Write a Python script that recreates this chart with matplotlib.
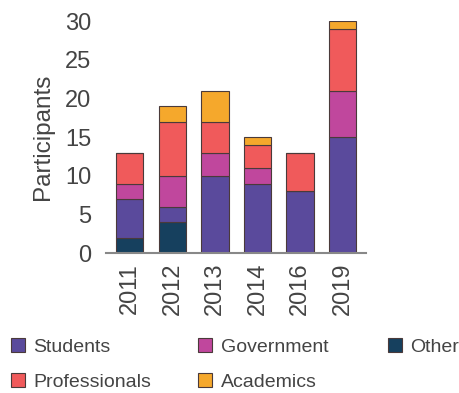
import matplotlib.pyplot as plt
import numpy as np

plt.rcParams['font.family'] = ['Liberation Sans', 'DejaVu Sans']

years = ['2011', '2012', '2013', '2014', '2016', '2019']
other = [2, 4, 0, 0, 0, 0]
students = [5, 2, 10, 9, 8, 15]
government = [2, 4, 3, 2, 0, 6]
professionals = [4, 7, 4, 3, 5, 8]
academics = [0, 2, 4, 1, 0, 1]

series = [('Other', other, '#16405e'),
          ('Students', students, '#5a4a9c'),
          ('Government', government, '#c0479d'),
          ('Professionals', professionals, '#f05a5b'),
          ('Academics', academics, '#f5a82c')]

fig = plt.figure(figsize=(4.59, 3.93), dpi=100)
ax = fig.add_axes([0.232, 0.356, 0.565, 0.59])

x = np.arange(len(years))
bottom = np.zeros(len(years))
bars = {}
for name, vals, col in series:
    vals = np.array(vals, dtype=float)
    bars[name] = ax.bar(x, vals, 0.64, bottom=bottom, color=col,
                        edgecolor='#4a3a3a', linewidth=0.8)
    bottom += vals

txt = '#444444'
ax.set_ylim(0, 30)
ax.set_xlim(-0.55, 5.55)
ax.set_yticks(range(0, 31, 5))
ax.set_xticks(x)
ax.set_xticklabels(years, rotation=90)
ax.tick_params(axis='both', labelsize=17, colors=txt, length=0)
ax.tick_params(axis='y', pad=11)
ax.tick_params(axis='x', pad=7)
for s in ['top', 'right', 'left']:
    ax.spines[s].set_visible(False)
ax.spines['bottom'].set_color('#888888')
ax.spines['bottom'].set_linewidth(1.5)
ax.set_ylabel('Participants', fontsize=17.5, color=txt, labelpad=8)

# legend laid out as three separate columns
cols = [(['Students', 'Professionals'], 0.006),
        (['Government', 'Academics'], 0.415),
        (['Other'], 0.828)]
for names, xpos in cols:
    fig.legend([bars[n][0] for n in names], names, loc='upper left',
               bbox_to_anchor=(xpos, 0.16), frameon=False, fontsize=14,
               handlelength=0.72, handleheight=0.72, handletextpad=0.45,
               labelspacing=0.9, labelcolor=txt, borderaxespad=0)

fig.savefig('out.png', dpi=100)
